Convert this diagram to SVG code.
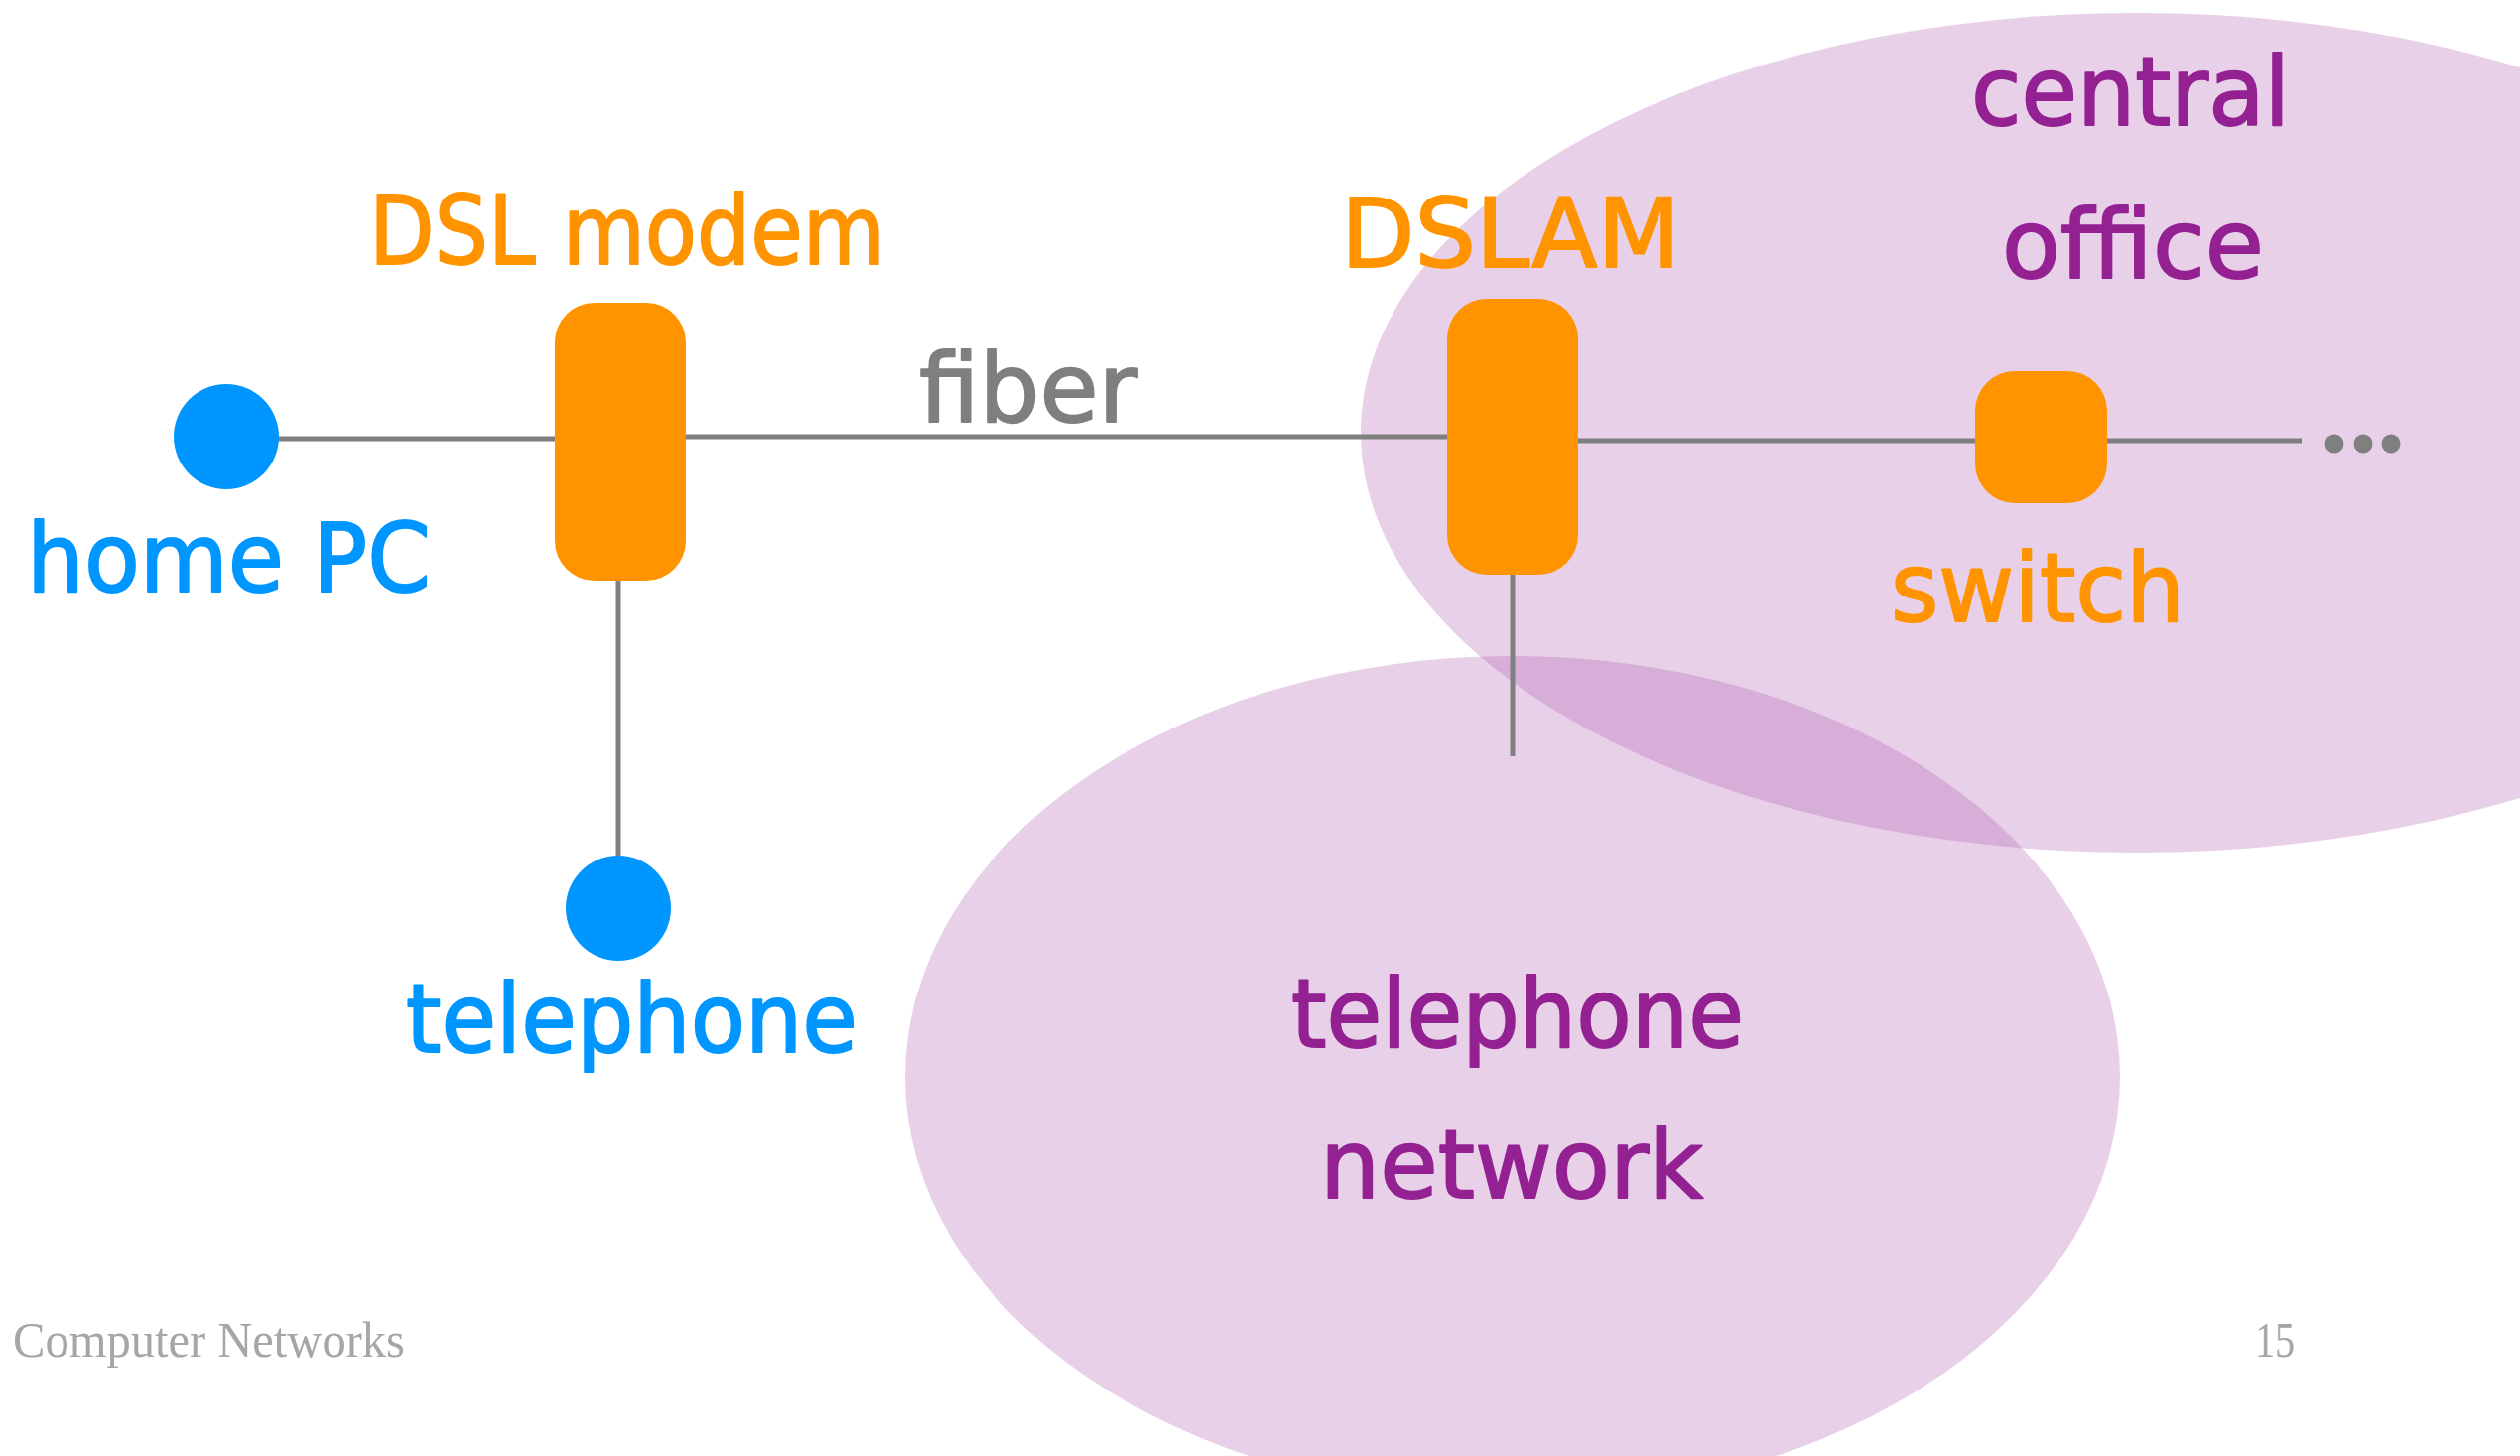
<svg xmlns="http://www.w3.org/2000/svg" width="2539" height="1467" viewBox="0 0 2539 1467">
  <style>
    .label { font-family: "DejaVu Sans", "Noto Sans", sans-serif; font-size: 96px; stroke-width: 2; stroke-linejoin: round; }
    .orange { fill: #FF9300; stroke: #FF9300; }
    .blue { fill: #0096FF; stroke: #0096FF; }
    .purple { fill: #942192; stroke: #942192; }
    .gray { fill: #7F7F7F; }
    .label.gray { stroke: #7F7F7F; }
    .footer { font-family: "Liberation Serif", "Times New Roman", serif; font-size: 50px; fill: #A6A6A6; }
    .wire { stroke: #7F7F7F; stroke-width: 5; fill: none; }
    .region { fill: #A349A4; fill-opacity: 0.25; }
    .box { fill: #FF9300; }
    .end { fill: #0096FF; }
  </style>

  <!-- shaded areas -->
  <g id="central-office-area">
    <ellipse class="region" cx="2153" cy="436" rx="782" ry="423"/>
  </g>
  <g id="telephone-network-area">
    <ellipse class="region" cx="1524" cy="1085" rx="612" ry="424"/>
  </g>

  <!-- links -->
  <g id="connectors">
    <line class="wire" x1="270" y1="442" x2="560" y2="442"/>
    <line class="wire" x1="690" y1="440" x2="1458" y2="440"/>
    <line class="wire" x1="1589" y1="444" x2="1991" y2="444"/>
    <line class="wire" x1="2122" y1="444" x2="2319" y2="444"/>
    <line class="wire" x1="623" y1="584" x2="623" y2="870"/>
    <line class="wire" x1="1524" y1="578" x2="1524" y2="762"/>
  </g>

  <g id="home-pc">
    <circle class="end" cx="228" cy="440" r="53"/>
    <text class="label blue" x="27" y="596" textLength="407" lengthAdjust="spacingAndGlyphs">home PC</text>
  </g>

  <g id="dsl-modem">
    <rect class="box" x="559" y="305" width="132" height="280" rx="40" ry="40"/>
    <text class="label orange" x="372" y="266" textLength="520" lengthAdjust="spacingAndGlyphs">DSL modem</text>
  </g>

  <g id="telephone">
    <circle class="end" cx="623" cy="915" r="53"/>
    <text class="label blue" x="409" y="1060" textLength="455" lengthAdjust="spacingAndGlyphs">telephone</text>
  </g>

  <g id="fiber-label">
    <text class="label gray" x="926" y="425" font-size="100" textLength="220" lengthAdjust="spacingAndGlyphs">fiber</text>
  </g>

  <g id="dslam">
    <rect class="box" x="1458" y="301" width="132" height="278" rx="40" ry="40"/>
    <text class="label orange" x="1351" y="269" textLength="342" lengthAdjust="spacingAndGlyphs">DSLAM</text>
  </g>

  <g id="switch">
    <rect class="box" x="1990" y="374" width="133" height="133" rx="40" ry="40"/>
    <text class="label orange" x="1905" y="626" textLength="296" lengthAdjust="spacingAndGlyphs">switch</text>
  </g>

  <g id="more">
    <circle class="gray" cx="2352" cy="447" r="9.5"/>
    <circle class="gray" cx="2381" cy="447" r="9.5"/>
    <circle class="gray" cx="2409" cy="447" r="9.5"/>
  </g>

  <g id="central-office-label">
    <text class="label purple" x="1986" y="126" textLength="321" lengthAdjust="spacingAndGlyphs">central</text>
    <text class="label purple" x="2017" y="280" textLength="264" lengthAdjust="spacingAndGlyphs">office</text>
  </g>

  <g id="telephone-network-label">
    <text class="label purple" x="1301" y="1055" textLength="456" lengthAdjust="spacingAndGlyphs">telephone</text>
    <text class="label purple" x="1330" y="1207" textLength="386" lengthAdjust="spacingAndGlyphs">network</text>
  </g>

  <g id="footer">
    <text class="footer" x="13" y="1367" textLength="395" lengthAdjust="spacingAndGlyphs">Computer Networks</text>
    <text class="footer" x="2272" y="1367" textLength="40" lengthAdjust="spacingAndGlyphs">15</text>
  </g>
</svg>
